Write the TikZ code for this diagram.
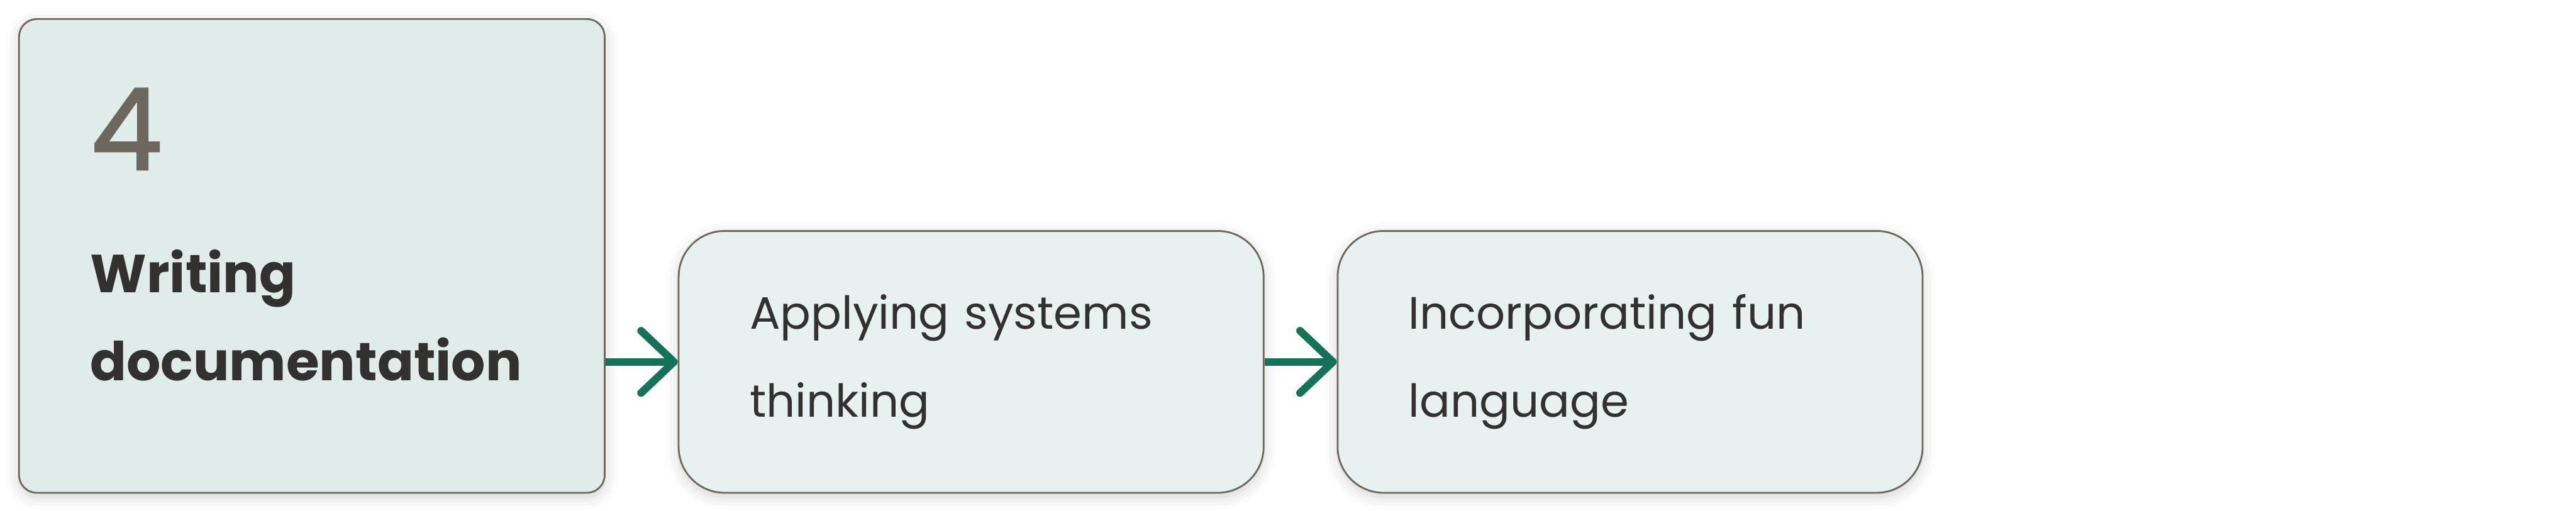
\documentclass[tikz,border=0pt]{standalone}
\usepackage{fontspec}
\setmainfont{Poppins}
\newfontfamily\stagenumfont[FakeBold=1.6]{Poppins}
\usetikzlibrary{positioning,arrows.meta,shadows.blur}

\definecolor{stagefill}{HTML}{DFECE9}
\definecolor{nextfill}{HTML}{E7F1EF}
\definecolor{edgegray}{HTML}{6E675E}
\definecolor{flowgreen}{HTML}{12735A}
\definecolor{inkdark}{HTML}{333130}

\tikzset{
  softshadow/.style={blur shadow={shadow xshift=0pt, shadow yshift=-2pt, shadow blur radius=6pt, shadow opacity=18}},
  stagebox/.style={draw=edgegray, line width=0.85pt, fill=stagefill, rounded corners=0.3cm,
    minimum width=9.97cm, minimum height=8.07cm, inner sep=0pt, softshadow},
  nextbox/.style={draw=edgegray, line width=0.85pt, fill=nextfill, rounded corners=0.78cm,
    minimum width=9.96cm, minimum height=4.46cm, inner sep=0pt, text width=7.54cm, align=left,
    text=inkdark, font=\fontsize{22}{42.4}\selectfont, softshadow},
  flow/.style={draw=flowgreen, line width=3.7pt, -{Straight Barb[length=5.6mm, width=10.6mm, round]}}
}

\begin{document}
\begin{tikzpicture}
\useasboundingbox (0,0) rectangle (43.86,-8.70);

% current stage
\node (stage) [stagebox, anchor=north west] at (0.31,-0.31) {};
\node (stagenum) [below right=1.19cm and 1.23cm of stage.north west, inner sep=0pt,
  text=edgegray, font=\stagenumfont\fontsize{55}{60}\selectfont] {4};
\node (stagetitle) [below right=3.94cm and 1.22cm of stage.north west, inner sep=0pt, align=left,
  text=inkdark, font=\fontsize{26}{42.5}\selectfont\bfseries] {Writing\\documentation};

% next steps
\node (systems) [nextbox, above right=0cm and 1.23cm of stage.south east] {Applying systems\\thinking};
\node (funlang) [nextbox, right=1.23cm of systems] {Incorporating fun\\language};

\draw[flow] (stage.east |- systems.west) -- (systems.west);
\draw[flow] (systems.east) -- (funlang.west);
\end{tikzpicture}
\end{document}
